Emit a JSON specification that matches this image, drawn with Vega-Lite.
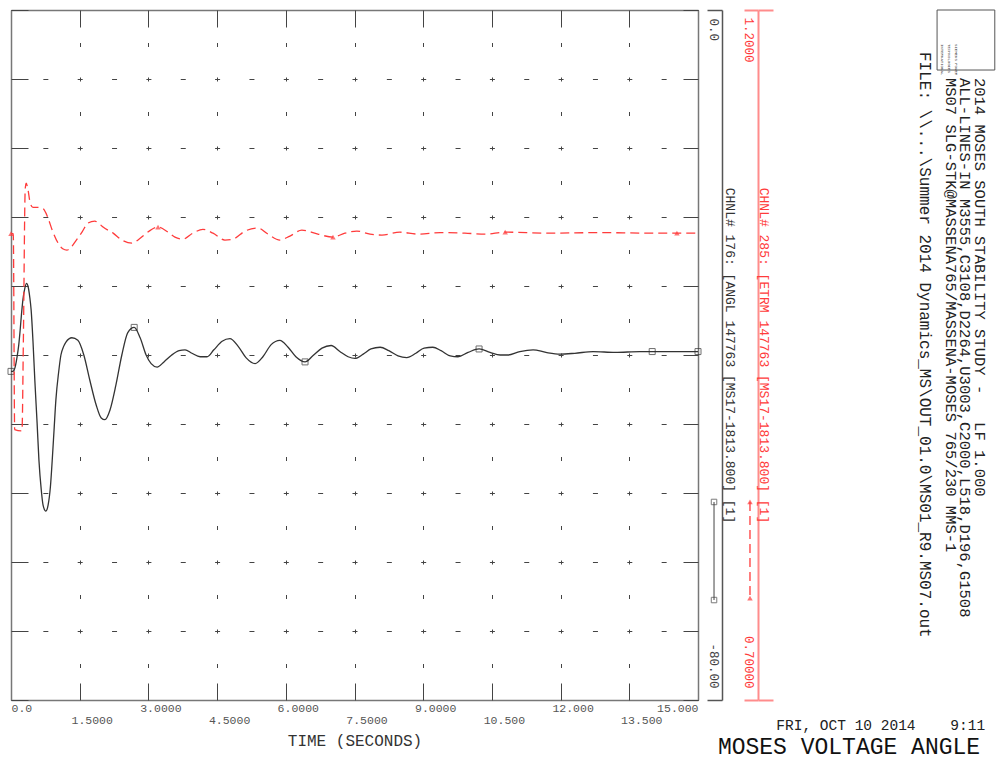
{
  "$schema": "https://vega.github.io/schema/vega-lite/v6.json",
  "width": 687,
  "height": 690,
  "autosize": "none",
  "padding": {"left": 11, "top": 10, "right": 300, "bottom": 62},
  "background": "white",
  "view": {"stroke": null},
  "config": {"font": "Liberation Mono", "axis": {"labelFont": "Liberation Mono", "titleFont": "Liberation Mono", "labelOverlap": false}},
  "datasets": {
    "angle": [
      {"t": 0, "v": -41.9}, {"t": 0.04, "v": -41.9}, {"t": 0.09, "v": -41.4}, {"t": 0.13, "v": -40.3},
      {"t": 0.17, "v": -38.8}, {"t": 0.2, "v": -37.1}, {"t": 0.23, "v": -35.2}, {"t": 0.26, "v": -33.6},
      {"t": 0.3, "v": -32.3}, {"t": 0.34, "v": -31.7}, {"t": 0.37, "v": -32.0}, {"t": 0.41, "v": -33.3},
      {"t": 0.44, "v": -34.8}, {"t": 0.48, "v": -38.4}, {"t": 0.52, "v": -42.9}, {"t": 0.57, "v": -47.9},
      {"t": 0.61, "v": -52.2}, {"t": 0.66, "v": -55.6}, {"t": 0.7, "v": -57.4}, {"t": 0.76, "v": -58.1},
      {"t": 0.81, "v": -57.4}, {"t": 0.86, "v": -55.3}, {"t": 0.9, "v": -52.2}, {"t": 0.94, "v": -48.7},
      {"t": 0.98, "v": -45.2}, {"t": 1.04, "v": -42.0}, {"t": 1.09, "v": -40.0}, {"t": 1.15, "v": -39.0},
      {"t": 1.2, "v": -38.5}, {"t": 1.33, "v": -38.0}, {"t": 1.46, "v": -38.3}, {"t": 1.59, "v": -40.0},
      {"t": 1.72, "v": -42.9}, {"t": 1.86, "v": -45.8}, {"t": 1.97, "v": -47.3}, {"t": 2.05, "v": -47.5},
      {"t": 2.16, "v": -46.4}, {"t": 2.29, "v": -43.5}, {"t": 2.42, "v": -40.0}, {"t": 2.55, "v": -37.4},
      {"t": 2.69, "v": -36.8}, {"t": 2.82, "v": -38.0}, {"t": 2.95, "v": -40.0}, {"t": 3.06, "v": -41.0},
      {"t": 3.19, "v": -41.4}, {"t": 3.34, "v": -40.8}, {"t": 3.51, "v": -40.0}, {"t": 3.67, "v": -39.5},
      {"t": 3.8, "v": -39.4}, {"t": 3.95, "v": -39.8}, {"t": 4.13, "v": -40.2}, {"t": 4.28, "v": -40.2},
      {"t": 4.43, "v": -39.4}, {"t": 4.61, "v": -38.4}, {"t": 4.78, "v": -38.1}, {"t": 4.96, "v": -39.0},
      {"t": 5.13, "v": -40.3}, {"t": 5.33, "v": -41.0}, {"t": 5.5, "v": -40.2}, {"t": 5.68, "v": -38.8},
      {"t": 5.87, "v": -38.3}, {"t": 6.05, "v": -39.1}, {"t": 6.22, "v": -40.2}, {"t": 6.42, "v": -40.8},
      {"t": 6.59, "v": -40.1}, {"t": 6.79, "v": -39.2}, {"t": 6.99, "v": -38.9}, {"t": 7.18, "v": -39.6},
      {"t": 7.36, "v": -40.2}, {"t": 7.51, "v": -40.4}, {"t": 7.69, "v": -39.9}, {"t": 7.86, "v": -39.3},
      {"t": 8.06, "v": -39.1}, {"t": 8.25, "v": -39.5}, {"t": 8.45, "v": -40.1}, {"t": 8.64, "v": -40.3},
      {"t": 8.84, "v": -39.8}, {"t": 9.02, "v": -39.2}, {"t": 9.21, "v": -39.1}, {"t": 9.39, "v": -39.5},
      {"t": 9.59, "v": -40.1}, {"t": 9.76, "v": -40.2}, {"t": 9.98, "v": -39.7}, {"t": 10.22, "v": -39.3},
      {"t": 10.46, "v": -39.7}, {"t": 10.68, "v": -40.0}, {"t": 10.85, "v": -40.0}, {"t": 11.11, "v": -39.6},
      {"t": 11.4, "v": -39.4}, {"t": 11.68, "v": -39.7}, {"t": 11.99, "v": -39.9}, {"t": 12.31, "v": -39.8},
      {"t": 12.71, "v": -39.6}, {"t": 13.19, "v": -39.7}, {"t": 13.73, "v": -39.6}, {"t": 14.39, "v": -39.6},
      {"t": 15.0, "v": -39.6}
    ],
    "etrm": [
      {"t": 0, "v": 1.038}, {"t": 0.05, "v": 1.038}, {"t": 0.08, "v": 0.896}, {"t": 0.24, "v": 0.895},
      {"t": 0.27, "v": 0.96}, {"t": 0.31, "v": 1.07}, {"t": 0.33, "v": 1.0746}, {"t": 0.37, "v": 1.07},
      {"t": 0.42, "v": 1.06}, {"t": 0.48, "v": 1.057}, {"t": 0.59, "v": 1.057}, {"t": 0.7, "v": 1.056},
      {"t": 0.8, "v": 1.05}, {"t": 0.9, "v": 1.0405}, {"t": 1.03, "v": 1.031}, {"t": 1.13, "v": 1.027},
      {"t": 1.22, "v": 1.026}, {"t": 1.31, "v": 1.028}, {"t": 1.4, "v": 1.032}, {"t": 1.55, "v": 1.039},
      {"t": 1.68, "v": 1.0456}, {"t": 1.83, "v": 1.047}, {"t": 1.93, "v": 1.045}, {"t": 2.01, "v": 1.0427},
      {"t": 2.23, "v": 1.0383}, {"t": 2.42, "v": 1.0333}, {"t": 2.64, "v": 1.031}, {"t": 2.78, "v": 1.0335},
      {"t": 2.93, "v": 1.0376}, {"t": 3.21, "v": 1.0427}, {"t": 3.43, "v": 1.039}, {"t": 3.58, "v": 1.0354},
      {"t": 3.76, "v": 1.034}, {"t": 3.97, "v": 1.0383}, {"t": 4.19, "v": 1.041}, {"t": 4.41, "v": 1.0383},
      {"t": 4.67, "v": 1.0333}, {"t": 4.85, "v": 1.034}, {"t": 5.11, "v": 1.0398}, {"t": 5.39, "v": 1.042},
      {"t": 5.61, "v": 1.0376}, {"t": 5.87, "v": 1.0333}, {"t": 6.09, "v": 1.0362}, {"t": 6.35, "v": 1.0405},
      {"t": 6.7, "v": 1.0376}, {"t": 7.03, "v": 1.0354}, {"t": 7.29, "v": 1.0383}, {"t": 7.55, "v": 1.0398},
      {"t": 7.84, "v": 1.0376}, {"t": 8.1, "v": 1.0369}, {"t": 8.49, "v": 1.039}, {"t": 8.89, "v": 1.0376},
      {"t": 9.37, "v": 1.0387}, {"t": 9.91, "v": 1.0383}, {"t": 10.35, "v": 1.0376}, {"t": 10.79, "v": 1.039},
      {"t": 11.77, "v": 1.0383}, {"t": 12.86, "v": 1.0387}, {"t": 13.95, "v": 1.0383}, {"t": 14.54, "v": 1.0383},
      {"t": 15.0, "v": 1.0383}
    ],
    "angleMarks": [
      {"t": 0, "v": -41.9}, {"t": 2.69, "v": -36.8}, {"t": 6.42, "v": -40.8},
      {"t": 10.22, "v": -39.3}, {"t": 14.0, "v": -39.6}, {"t": 15.0, "v": -39.6}
    ],
    "etrmMarks": [
      {"t": 0, "v": 1.038}, {"t": 3.21, "v": 1.0427}, {"t": 7.03, "v": 1.0354},
      {"t": 10.79, "v": 1.039}, {"t": 14.54, "v": 1.0383}
    ]
  },
  "layer": [
    {
      "data": {"name": "angle"},
      "mark": {"type": "line", "color": "#333333", "strokeWidth": 1.3, "interpolate": "monotone"},
      "encoding": {
        "x": {
          "field": "t", "type": "quantitative",
          "scale": {"domain": [0, 15], "nice": false, "zero": false},
          "axis": {
            "orient": "bottom",
            "values": [0, 1.5, 3, 4.5, 6, 7.5, 9, 10.5, 12, 13.5, 15],
            "ticks": false,
            "domainColor": "#777777", "domainWidth": 1.5,
            "labelExpr": "datum.value == 0 ? '0.0' : (datum.value % 3 == 0 ? format(datum.value, '.5r') : ['', format(datum.value, '.5r')])",
            "labelOffset": {"condition": {"test": "datum.value == 0 || datum.value == 15", "value": 0}, "value": 12},
            "labelFontSize": 11.5, "labelColor": "#555555", "labelPadding": 2, "labelFlush": true,
            "labelLineHeight": 12, "labelBaseline": "top",
            "grid": true, "gridColor": "#444444", "gridDash": [4, 30.5], "gridDashOffset": 2, "gridWidth": 1,
            "title": "TIME (SECONDS)", "titleFontSize": 16, "titleFontWeight": "normal", "titleColor": "#333333",
            "titleY": 40, "titleBaseline": "middle"
          }
        },
        "y": {
          "field": "v", "type": "quantitative",
          "scale": {"domain": [-80, 0], "nice": false, "zero": false},
          "axis": {
            "orient": "left",
            "values": [-80, -72, -64, -56, -48, -40, -32, -24, -16, -8, 0],
            "ticks": false, "labels": false,
            "domainColor": "#777777", "domainWidth": 1.5,
            "grid": true, "gridColor": "#444444", "gridDash": [5, 29.35], "gridDashOffset": 2.5, "gridWidth": 1,
            "title": null
          }
        }
      }
    },
    {
      "data": {"name": "angleMarks"},
      "mark": {"type": "point", "shape": "square", "size": 36, "filled": false, "color": "#333333", "strokeWidth": 1},
      "encoding": {
        "x": {
          "field": "t", "type": "quantitative",
          "axis": {
            "orient": "top", "ticks": false, "labels": false,
            "domainColor": "#777777", "domainWidth": 1.5, "grid": false, "title": null
          }
        },
        "y": {
          "field": "v", "type": "quantitative",
          "scale": {"domain": [-80, 0], "nice": false, "zero": false},
          "axis": {
            "orient": "right", "ticks": false, "labels": false,
            "domainColor": "#777777", "domainWidth": 1.5, "grid": false, "title": null
          }
        }
      }
    },
    {
      "data": {"name": "etrm"},
      "mark": {"type": "line", "color": "#ff3b3b", "strokeWidth": 1.3, "strokeDash": [9, 5], "interpolate": "monotone"},
      "encoding": {
        "x": {
          "field": "t", "type": "quantitative",
          "axis": {
            "orient": "top", "offset": -690, "values": [0, 1.5, 3, 4.5, 6, 7.5, 9, 10.5, 12, 13.5, 15],
            "tickSize": 17, "tickColor": "#444444", "tickWidth": 1,
            "labels": false, "domain": false, "grid": false, "title": null
          }
        },
        "y": {
          "field": "v", "type": "quantitative",
          "scale": {"domain": [0.7, 1.2], "nice": false, "zero": false},
          "axis": {
            "orient": "left", "offset": -747, "values": [0.7, 1.2],
            "tickSize": 14, "tickColor": "#ff8c8c", "tickWidth": 2,
            "domainColor": "#ff8c8c", "domainWidth": 2, "grid": false,
            "labelExpr": "datum.value > 1 ? '1.2000' : '0.70000'",
            "labelAngle": 90,
            "labelAlign": {"condition": {"test": "datum.value > 1", "value": "left"}, "value": "right"},
            "labelOffset": {"condition": {"test": "datum.value > 1", "value": 7}, "value": -12},
            "labelBaseline": "middle", "labelPadding": -4, "labelColor": "#ff3b3b", "labelFontSize": 12.5,
            "title": "CHNL# 285: [ETRM 147763 [MS17-1813.800] [1]",
            "titleAngle": 90, "titleX": 5, "titleBaseline": "middle", "titleColor": "#ff3b3b",
            "titleFontSize": 13, "titleFontWeight": "normal"
          }
        }
      }
    },
    {
      "data": {"name": "etrmMarks"},
      "mark": {"type": "point", "shape": "triangle-up", "size": 30, "filled": true, "color": "#ff3b3b"},
      "encoding": {
        "x": {
          "field": "t", "type": "quantitative",
          "axis": {
            "orient": "bottom", "offset": -690, "values": [0, 1.5, 3, 4.5, 6, 7.5, 9, 10.5, 12, 13.5, 15],
            "tickSize": 17, "tickColor": "#444444", "tickWidth": 1,
            "labels": false, "domain": false, "grid": false, "title": null
          }
        },
        "y": {
          "field": "v", "type": "quantitative",
          "scale": {"domain": [0.7, 1.2], "nice": false, "zero": false},
          "axis": {
            "orient": "right", "offset": 60, "values": [0.7, 1.2],
            "tickSize": 15, "tickColor": "#ff8c8c", "tickWidth": 2,
            "domain": false, "labels": false, "grid": false, "title": null
          }
        }
      }
    },
    {
      "data": {"values": [{}]},
      "mark": {"type": "rule", "color": "#444444", "strokeWidth": 1},
      "encoding": {
        "x": {"datum": 15.35, "type": "quantitative", "axis": null},
        "y": {
          "datum": -57.04, "type": "quantitative",
          "scale": {"domain": [-80, 0], "nice": false, "zero": false},
          "axis": {
            "orient": "left", "offset": -711, "values": [-80, 0],
            "tickSize": 15, "tickColor": "#555555", "tickWidth": 1.5,
            "domainColor": "#555555", "domainWidth": 1.5, "grid": false,
            "labelExpr": "datum.value == 0 ? '0.0' : '-80.00'",
            "labelAngle": 90,
            "labelAlign": {"condition": {"test": "datum.value == 0", "value": "left"}, "value": "right"},
            "labelOffset": {"condition": {"test": "datum.value == 0", "value": 8}, "value": -12},
            "labelBaseline": "middle", "labelPadding": -6, "labelColor": "#444444", "labelFontSize": 12.5,
            "title": "CHNL# 176: [ANGL 147763 [MS17-1813.800] [1]",
            "titleAngle": 90, "titleX": 7, "titleBaseline": "middle", "titleColor": "#333333",
            "titleFontSize": 13, "titleFontWeight": "normal"
          }
        },
        "y2": {"datum": -68.41}
      }
    },
    {
      "data": {"values": [{}]},
      "mark": {"type": "point", "shape": "square", "size": 30, "filled": false, "color": "#444444", "strokeWidth": 1},
      "encoding": {
        "x": {"datum": 15.35, "type": "quantitative", "axis": null},
        "y": {
          "datum": -57.04, "type": "quantitative",
          "scale": {"domain": [-80, 0], "nice": false, "zero": false},
          "axis": {
            "orient": "right", "offset": -687, "values": [-80, -72, -64, -56, -48, -40, -32, -24, -16, -8, 0],
            "tickSize": 17, "tickColor": "#444444", "tickWidth": 1,
            "labels": false, "domain": false, "grid": false, "title": null
          }
        }
      }
    },
    {
      "data": {"values": [{}]},
      "mark": {"type": "point", "shape": "square", "size": 30, "filled": false, "color": "#444444", "strokeWidth": 1},
      "encoding": {
        "x": {"datum": 15.35, "type": "quantitative", "axis": null},
        "y": {
          "datum": -68.41, "type": "quantitative",
          "scale": {"domain": [-80, 0], "nice": false, "zero": false},
          "axis": {
            "orient": "left", "offset": -687, "values": [-80, -72, -64, -56, -48, -40, -32, -24, -16, -8, 0],
            "tickSize": 15, "tickColor": "#444444", "tickWidth": 1,
            "labels": false, "domain": false, "grid": false, "title": null
          }
        }
      }
    },
    {
      "data": {"values": [{}]},
      "mark": {"type": "rule", "color": "#ff3b3b", "strokeWidth": 1.3, "strokeDash": [9, 5]},
      "encoding": {
        "x": {"datum": 16.135, "type": "quantitative", "axis": null},
        "y": {"datum": 0.8435, "type": "quantitative", "scale": {"domain": [0.7, 1.2], "nice": false, "zero": false}, "axis": null},
        "y2": {"datum": 0.7739}
      }
    },
    {
      "data": {"values": [{}]},
      "mark": {"type": "point", "shape": "triangle-up", "size": 30, "filled": true, "color": "#ff3b3b"},
      "encoding": {
        "x": {"datum": 16.135, "type": "quantitative", "axis": null},
        "y": {"datum": 0.8435, "type": "quantitative", "scale": {"domain": [0.7, 1.2], "nice": false, "zero": false}, "axis": null}
      }
    },
    {
      "data": {"values": [{}]},
      "mark": {"type": "point", "shape": "triangle-up", "size": 30, "filled": true, "color": "#ff3b3b"},
      "encoding": {
        "x": {"datum": 16.135, "type": "quantitative", "axis": null},
        "y": {"datum": 0.7739, "type": "quantitative", "scale": {"domain": [0.7, 1.2], "nice": false, "zero": false}, "axis": null}
      }
    },
    {
      "data": {"values": [{}]},
      "mark": {"type": "text", "text": "2014 MOSES SOUTH STABILITY STUDY -\u00a0\u00a0\u00a0LF 1.000", "angle": 90, "align": "left", "baseline": "middle", "fontSize": 15.5, "color": "#222222"},
      "encoding": {
        "x": {"datum": 21.157, "type": "quantitative", "axis": null},
        "y": {"datum": -7.88, "type": "quantitative", "scale": {"domain": [-80, 0], "nice": false, "zero": false}, "axis": null}
      }
    },
    {
      "data": {"values": [{}]},
      "mark": {"type": "text", "text": "ALL-LINES-IN M3555,C3108,D2264,U3003,C2000,L518,D196,G1508", "angle": 90, "align": "left", "baseline": "middle", "fontSize": 15.5, "color": "#222222"},
      "encoding": {
        "x": {"datum": 20.83, "type": "quantitative", "axis": null},
        "y": {"datum": -7.88, "type": "quantitative", "scale": {"domain": [-80, 0], "nice": false, "zero": false}, "axis": null}
      }
    },
    {
      "data": {"values": [{}]},
      "mark": {"type": "text", "text": "MS07 SLG-STK@MASSENA765/MASSENA-MOSES 765/230 MMS-1", "angle": 90, "align": "left", "baseline": "middle", "fontSize": 15.5, "color": "#222222"},
      "encoding": {
        "x": {"datum": 20.52, "type": "quantitative", "axis": null},
        "y": {"datum": -7.88, "type": "quantitative", "scale": {"domain": [-80, 0], "nice": false, "zero": false}, "axis": null}
      }
    },
    {
      "data": {"values": [{}]},
      "mark": {"type": "text", "text": "FILE: \\\\...\\Summer 2014 Dynamics_MS\\OUT_01.0\\MS01_R9.MS07.out", "angle": 90, "align": "left", "baseline": "middle", "fontSize": 16, "color": "#222222"},
      "encoding": {
        "x": {"datum": 19.96, "type": "quantitative", "axis": null},
        "y": {"datum": -4.87, "type": "quantitative", "scale": {"domain": [-80, 0], "nice": false, "zero": false}, "axis": null}
      }
    },
    {
      "data": {"values": [{}]},
      "mark": {"type": "text", "text": "FRI, OCT 10 2014\u00a0\u00a0\u00a0\u00a09:11", "align": "right", "baseline": "middle", "fontSize": 14.5, "color": "#222222"},
      "encoding": {
        "x": {"datum": 21.27, "type": "quantitative", "axis": null},
        "y": {"datum": -83.02, "type": "quantitative", "scale": {"domain": [-80, 0], "nice": false, "zero": false}, "axis": null}
      }
    },
    {
      "data": {"values": [{}]},
      "mark": {"type": "text", "text": "MOSES VOLTAGE ANGLE", "align": "right", "baseline": "middle", "fontSize": 23, "color": "#111111"},
      "encoding": {
        "x": {"datum": 21.16, "type": "quantitative", "axis": null},
        "y": {"datum": -85.45, "type": "quantitative", "scale": {"domain": [-80, 0], "nice": false, "zero": false}, "axis": null}
      }
    },
    {
      "data": {"values": [{}]},
      "mark": {"type": "rect", "filled": false, "stroke": "#555555", "strokeWidth": 1},
      "encoding": {
        "x": {"datum": 20.22, "type": "quantitative", "axis": null},
        "x2": {"datum": 21.48},
        "y": {"datum": 0, "type": "quantitative", "scale": {"domain": [-80, 0], "nice": false, "zero": false}, "axis": null},
        "y2": {"datum": -6.96}
      }
    },
    {
      "data": {"values": [{}]},
      "mark": {"type": "text", "text": "SIEMENS POWER", "angle": 90, "align": "left", "baseline": "middle", "fontSize": 4, "color": "#444444"},
      "encoding": {
        "x": {"datum": 20.63, "type": "quantitative", "axis": null},
        "y": {"datum": -3.94, "type": "quantitative", "scale": {"domain": [-80, 0], "nice": false, "zero": false}, "axis": null}
      }
    },
    {
      "data": {"values": [{}]},
      "mark": {"type": "text", "text": "TECHNOLOGIES", "angle": 90, "align": "left", "baseline": "middle", "fontSize": 4, "color": "#444444"},
      "encoding": {
        "x": {"datum": 20.48, "type": "quantitative", "axis": null},
        "y": {"datum": -3.94, "type": "quantitative", "scale": {"domain": [-80, 0], "nice": false, "zero": false}, "axis": null}
      }
    },
    {
      "data": {"values": [{}]},
      "mark": {"type": "text", "text": "INTERNATIONAL", "angle": 90, "align": "left", "baseline": "middle", "fontSize": 4, "color": "#444444"},
      "encoding": {
        "x": {"datum": 20.33, "type": "quantitative", "axis": null},
        "y": {"datum": -3.94, "type": "quantitative", "scale": {"domain": [-80, 0], "nice": false, "zero": false}, "axis": null}
      }
    }
  ],
  "resolve": {"scale": {"y": "independent"}, "axis": {"x": "independent", "y": "independent"}}
}
